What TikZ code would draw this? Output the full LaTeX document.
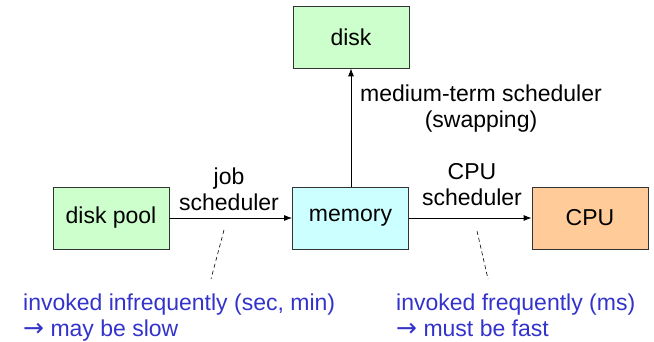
\documentclass[tikz,border=0pt]{standalone}
\usepackage{fontspec}
\setmainfont{Liberation Sans}
\newfontfamily\arrowfont{DejaVu Sans}
\newcommand{\notearrow}{{\arrowfont\fontsize{25}{26}\selectfont →}}
\usetikzlibrary{arrows.meta}
\definecolor{boxgreen}{RGB}{204,255,204}
\definecolor{boxcyan}{RGB}{204,255,255}
\definecolor{boxorange}{RGB}{255,204,153}
\definecolor{noteblue}{RGB}{51,51,204}
\begin{document}
\begin{tikzpicture}[x=1pt,y=-1pt,
  box/.style={draw=black!80,line width=0.8pt,minimum width=116pt,minimum height=62pt,inner sep=0pt,font=\fontsize{23}{27}\selectfont},
  lbl/.style={inner sep=0pt,font=\fontsize{23}{26}\selectfont,align=center},
  note/.style={inner sep=0pt,anchor=base west,align=left,text=noteblue,font=\fontsize{23}{26}\selectfont},
  conn/.style={line width=0.8pt,-{Latex[length=8pt,width=6pt]}},
  lead/.style={dashed,line width=0.6pt,dash pattern=on 4pt off 3pt}]
\useasboundingbox (0,0) rectangle (654,342);
\node[box,fill=boxgreen] (disk) at (351,37) {disk};
\node[box,fill=boxgreen] (pool) at (111,218) {disk pool};
\node[box,fill=boxcyan] (mem) at (350.5,218) {memory};
\node[box,fill=boxorange] (cpu) at (590,218) {CPU};
\draw[conn] (pool) -- (mem);
\draw[conn] (mem) -- (cpu);
\draw[conn] (mem.north -| disk.south) -- (disk.south);
\node[lbl] (mts) at (481,109) {medium-term scheduler\\(swapping)};
\node[lbl] (js) at (229,189) {job\\scheduler};
\node[lbl] (cs) at (472,185) {CPU\\scheduler};
\node[note] (n1) at (23,336.5) {invoked infrequently (sec, min)\\\notearrow\ may be slow};
\node[note] (n3) at (396,336.5) {invoked frequently (ms)\\\notearrow\ must be fast};
\coordinate (a1) at (224,230);
\coordinate (b1) at (211,279);
\coordinate (a2) at (477,231);
\coordinate (b2) at (488,279);
\draw[lead] (a1) -- (b1);
\draw[lead] (a2) -- (b2);
\end{tikzpicture}
\end{document}
